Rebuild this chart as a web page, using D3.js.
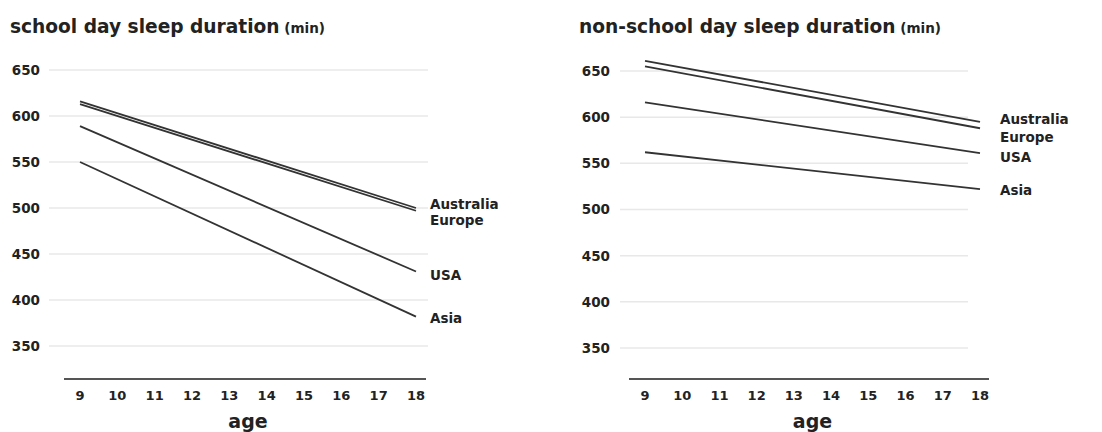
<!DOCTYPE html>
<html><head><meta charset="utf-8">
<script src="https://cdn.jsdelivr.net/npm/d3@7"></script>
<style>
body{margin:0;background:#fff;}
text{font-family:"DejaVu Sans",sans-serif;font-weight:700;fill:#222;}
</style></head>
<body><svg id="c" width="1102" height="432"></svg>
<script>
const ages = [9,10,11,12,13,14,15,16,17,18];
const lineAges = [9, 18];
const yTicks = [350,400,450,500,550,600,650];
const regions = ["Australia","Europe","USA","Asia"];
// values at age 9 and age 18, in region order
const schoolDay = [[616,500],[613,497],[589,431],[550,382]];
const nonSchoolDay = [[661,595],[655,588],[616,561],[562,522]];
const titles = ["school day sleep duration","non-school day sleep duration"];
const titleUnit = "(min)";
const xTitle = "age";

const svg = d3.select("#c");

const panels = [
  {data: schoolDay, title: titles[0], tx:10, gx:[49,428], ax:[64,426], xr:[80,416], yr:[346,70], ylab:40, lx:430, ldy:[-4,10,4,2]},
  {data: nonSchoolDay, title: titles[1], tx:579, gx:[620,968], ax:[629,989], xr:[645,980], yr:[348,71], ylab:610, lx:1000, ldy:[-3,9,4,1]}
];

panels.forEach(p => {
  const g = svg.append("g");
  const x = d3.scaleLinear().domain([9,18]).range(p.xr);
  const y = d3.scaleLinear().domain([350,650]).range(p.yr);

  const t = g.append("text").attr("x", p.tx).attr("y", 33).style("font-size","18.6px");
  t.append("tspan").text(p.title);
  t.append("tspan").text(" " + titleUnit).style("font-size","13.5px");

  // gridlines
  g.selectAll(".grid").data(yTicks).join("line")
    .attr("x1", p.gx[0]).attr("x2", p.gx[1])
    .attr("y1", d => y(d)).attr("y2", d => y(d))
    .attr("stroke","#e8e8e8").attr("stroke-width",1.5);
  g.selectAll(".ylab").data(yTicks).join("text")
    .attr("x", p.ylab).attr("y", d => y(d)).attr("dy","0.36em")
    .attr("text-anchor","end").style("font-size","13.5px").text(d => d);

  // x axis
  g.append("line").attr("x1", p.ax[0]).attr("x2", p.ax[1]).attr("y1",379).attr("y2",379)
    .attr("stroke","#555").attr("stroke-width",2);
  g.selectAll(".xlab").data(ages).join("text")
    .attr("x", d => x(d)).attr("y", 395).attr("dy","0.36em")
    .attr("text-anchor","middle").style("font-size","13px").text(d => d);
  g.append("text").attr("x", (p.xr[0]+p.xr[1])/2).attr("y", 421).attr("dy","0.35em")
    .attr("text-anchor","middle").style("font-size","19px").text(xTitle);

  const line = d3.line().x((d,i) => x(lineAges[i])).y(d => y(d));
  g.selectAll(".series").data(p.data).join("path")
    .attr("d", d => line(d)).attr("fill","none")
    .attr("stroke","#333").attr("stroke-width",1.8);

  g.selectAll(".rlab").data(p.data).join("text")
    .attr("x", p.lx).attr("y", (d,i) => y(d[1]) + p.ldy[i]).attr("dy","0.35em")
    .style("font-size","13.5px").text((d,i) => regions[i]);
});
</script></body></html>
